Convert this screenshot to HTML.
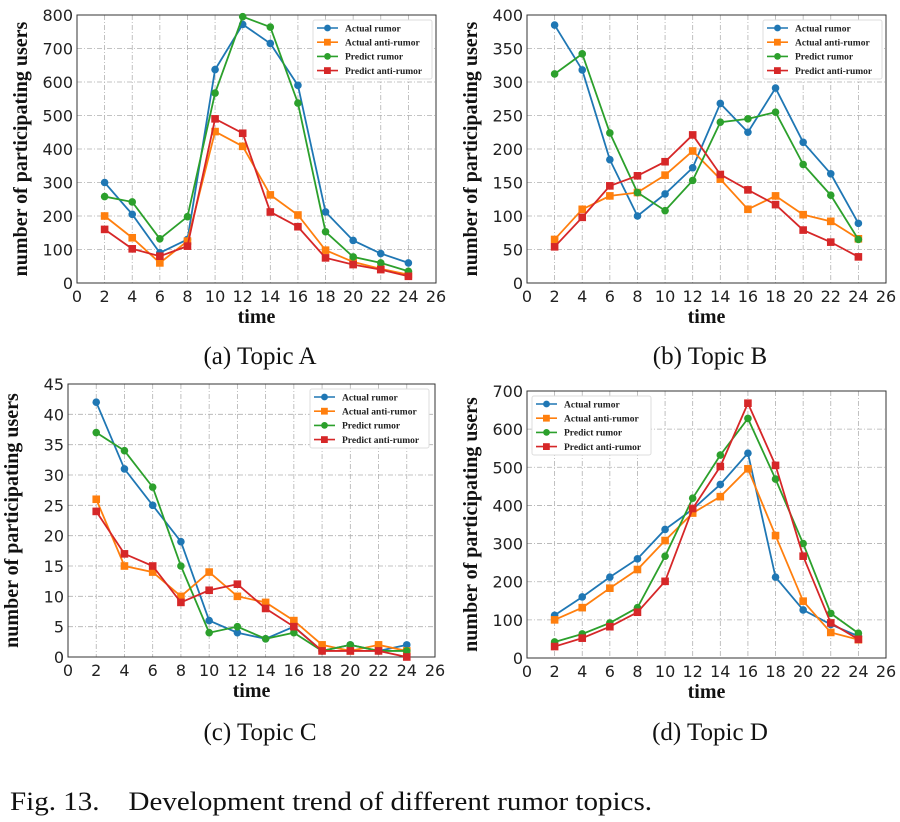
<!DOCTYPE html>
<html><head><meta charset="utf-8"><style>
body{margin:0;background:#fff;}
svg{display:block;}
</style></head><body>
<svg id="fig" width="900" height="822" xmlns="http://www.w3.org/2000/svg"></svg>
<script>
const xTimes=[2,4,6,8,10,12,14,16,18,20,22,24];
const xTicks=[0,2,4,6,8,10,12,14,16,18,20,22,24,26];
const seriesNames=["Actual rumor","Actual anti-rumor","Predict rumor","Predict anti-rumor"];
const aActualRumor=[300,205,90,130,637,772,715,590,212,127,88,60];
const aActualAnti=[200,135,60,125,452,408,263,203,98,63,42,25];
const aPredictRumor=[258,242,132,198,567,795,764,537,153,78,60,35];
const aPredictAnti=[160,102,80,110,490,447,212,168,75,55,40,20];
const bActualRumor=[385,318,184,100,133,172,268,225,291,210,163,89];
const bActualAnti=[65,110,130,135,161,197,155,110,130,102,92,66];
const bPredictRumor=[312,342,224,135,108,153,240,245,255,177,131,65];
const bPredictAnti=[54,98,145,160,181,221,162,139,117,79,61,39];
const cActualRumor=[42,31,25,19,6,4,3,5,1,2,1,2];
const cActualAnti=[26,15,14,10,14,10,9,6,2,1,2,1];
const cPredictRumor=[37,34,28,15,4,5,3,4,1,2,1,1];
const cPredictAnti=[24,17,15,9,11,12,8,5,1,1,1,0];
const dActualRumor=[112,160,212,260,337,390,455,537,212,126,88,57];
const dActualAnti=[100,132,183,232,308,380,423,496,321,149,67,48];
const dPredictRumor=[42,63,92,132,267,419,532,628,469,300,117,65];
const dPredictAnti=[30,52,82,120,201,392,502,668,505,267,92,49];
const aYTicks=[0,100,200,300,400,500,600,700,800];
const bYTicks=[0,50,100,150,200,250,300,350,400];
const cYTicks=[0,5,10,15,20,25,30,35,40,45];
const dYTicks=[0,100,200,300,400,500,600,700];

const colors=["#1f77b4","#ff7f0e","#2ca02c","#d62728"];
const markers=["circle","square","circle","square"];
const NS="http://www.w3.org/2000/svg";
const svg=document.getElementById('fig');
function mk(tag,attrs,parent){const e=document.createElementNS(NS,tag);for(const k in attrs)e.setAttribute(k,attrs[k]);(parent||svg).appendChild(e);return e;}

const panels=[
 {id:"a",L:77,R:436,T:15,B:283,yt:aYTicks,s:[aActualRumor,aActualAnti,aPredictRumor,aPredictAnti],leg:[313,20],cap:"(a) Topic A",cx:260,cy:364},
 {id:"b",L:527,R:886,T:15,B:283,yt:bYTicks,s:[bActualRumor,bActualAnti,bPredictRumor,bPredictAnti],leg:[763,20],cap:"(b) Topic B",cx:710,cy:364},
 {id:"c",L:68,R:435,T:384,B:657,yt:cYTicks,s:[cActualRumor,cActualAnti,cPredictRumor,cPredictAnti],leg:[310,389],cap:"(c) Topic C",cx:260,cy:740},
 {id:"d",L:527,R:886,T:391,B:658,yt:dYTicks,s:[dActualRumor,dActualAnti,dPredictRumor,dPredictAnti],leg:[532,396],cap:"(d) Topic D",cx:710,cy:740}
];

panels.forEach(p=>{
 const g=mk('g',{});
 
 
 const ymax=p.yt[p.yt.length-1];
 const xs=v=>p.L+(v-0)/26*(p.R-p.L);
 const ys=v=>p.B-v/ymax*(p.B-p.T);
 xTicks.forEach(t=>{ if(t>0&&t<26){const l=mk('line',{x1:xs(t),x2:xs(t),y1:p.T,y2:p.B,stroke:"#b0b0b0","stroke-width":0.8,"stroke-dasharray":"5,2,1,2"},g);
   }
  const tx=mk('text',{x:xs(t),y:p.B+19,"text-anchor":"middle","font-family":"DejaVu Sans, sans-serif","font-size":16,fill:"#222"},g);
  tx.textContent=t;
  
 });
 p.yt.forEach(t=>{ if(t>0&&t<ymax){const l=mk('line',{x1:p.L,x2:p.R,y1:ys(t),y2:ys(t),stroke:"#b0b0b0","stroke-width":0.8,"stroke-dasharray":"5,2,1,2"},g);
   }
  const tx=mk('text',{x:p.L-4,y:ys(t)+6,"text-anchor":"end","font-family":"DejaVu Sans, sans-serif","font-size":16,fill:"#222"},g);
  tx.textContent=t;
  
 });
 const fr=mk('rect',{x:p.L,y:p.T,width:p.R-p.L,height:p.B-p.T,fill:"none",stroke:"#333","stroke-width":1},g);
 
 p.s.forEach((arr,i)=>{
  const pts=arr.map((v,j)=>xs(xTimes[j])+","+ys(v)).join(" ");
  const pl=mk('polyline',{points:pts,fill:"none",stroke:colors[i],"stroke-width":1.8},g);
  
  arr.forEach((v,j)=>{
   let m;
   if(markers[i]=="circle") m=mk('circle',{cx:xs(xTimes[j]),cy:ys(v),r:3.8,fill:colors[i]},g);
   else m=mk('rect',{x:xs(xTimes[j])-3.8,y:ys(v)-3.8,width:7.6,height:7.6,fill:colors[i]},g);
   
  });
 });
 const yl=mk('text',{transform:`translate(${p.L-50},${(p.T+p.B)/2}) rotate(-90)`,"text-anchor":"middle","font-family":"Liberation Serif, serif","font-weight":"bold","font-size":20,fill:"#111"},g);
 yl.textContent="number of participating users";
 
 const xl=mk('text',{x:(p.L+p.R)/2,y:p.B+40,"text-anchor":"middle","font-family":"Liberation Serif, serif","font-weight":"bold","font-size":20,fill:"#111"},g);
 xl.textContent="time";
 
 const [lx,ly]=p.leg;
 const lg=mk('g',{},g);
 
 mk('rect',{x:lx,y:ly,width:119,height:59,fill:"#fff",stroke:"#ddd","stroke-width":1,rx:2},lg);
 seriesNames.forEach((n,i)=>{
  const yy=ly+8+i*14.2;
  mk('line',{x1:lx+4,x2:lx+25,y1:yy,y2:yy,stroke:colors[i],"stroke-width":1.6},lg);
  if(markers[i]=="circle") mk('circle',{cx:lx+14.5,cy:yy,r:3.4,fill:colors[i]},lg);
  else mk('rect',{x:lx+11,y:yy-3.4,width:6.8,height:6.8,fill:colors[i]},lg);
  const t=mk('text',{x:lx+32,y:yy+3.3,"font-family":"Liberation Serif, serif","font-weight":"bold","font-size":9.5,fill:"#222"},lg);
  t.textContent=n;
  
 });
 const cap=mk('text',{x:p.cx,y:p.cy,"text-anchor":"middle","font-family":"Liberation Serif, serif","font-size":25,fill:"#111"});
 cap.textContent=p.cap;
 
});
const fc=mk('text',{x:10,y:810,"font-family":"Liberation Serif, serif","font-size":26,fill:"#111",style:"white-space:pre",textLength:642,lengthAdjust:"spacingAndGlyphs"});
fc.textContent="Fig. 13.    Development trend of different rumor topics.";

</script>
</body></html>
